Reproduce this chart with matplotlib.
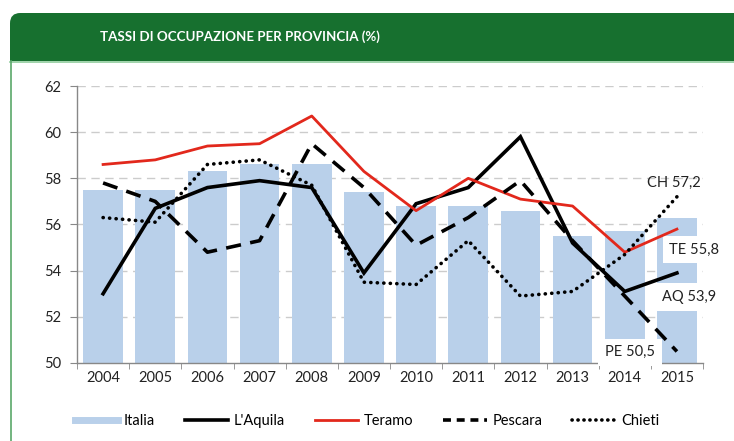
import matplotlib
matplotlib.use("Agg")
import matplotlib.pyplot as plt
from matplotlib.patches import FancyBboxPatch, Rectangle
from matplotlib.lines import Line2D
import numpy as np

years = ["2004", "2005", "2006", "2007", "2008", "2009", "2010", "2011", "2012", "2013", "2014", "2015"]
italia = [57.5, 57.5, 58.3, 58.6, 58.6, 57.4, 56.8, 56.8, 56.6, 55.5, 55.7, 56.3]
laquila = [53.0, 56.7, 57.6, 57.9, 57.6, 53.9, 56.9, 57.6, 59.8, 55.2, 53.1, 53.9]
teramo = [58.6, 58.8, 59.4, 59.5, 60.7, 58.3, 56.6, 58.0, 57.1, 56.8, 54.8, 55.8]
pescara = [57.8, 57.0, 54.8, 55.3, 59.5, 57.6, 55.1, 56.3, 57.9, 55.3, 52.9, 50.5]
chieti = [56.3, 56.1, 58.6, 58.8, 57.7, 53.5, 53.4, 55.3, 52.9, 53.1, 54.7, 57.2]
end_labels = ["CH 57,2", "TE 55,8", "AQ 53,9", "PE 50,5"]
title = "TASSI DI OCCUPAZIONE PER PROVINCIA (%)"

FONT = ["Lato", "DejaVu Sans"]
plt.rcParams['font.family'] = FONT

fig = plt.figure(figsize=(7.34, 4.41), dpi=100)
W, H = 734, 441

# header band
green = "#17702f"
hdr = FancyBboxPatch((10 / W, 1 - 61 / H), (W + 20) / W, 48 / H,
                     boxstyle="round,pad=0,rounding_size=0.014",
                     transform=fig.transFigure, facecolor=green, edgecolor="none",
                     mutation_aspect=W / H)
fig.add_artist(hdr)
fig.add_artist(Rectangle((10 / W, 1 - 61 / H), 1, 24 / H, transform=fig.transFigure,
                         facecolor=green, edgecolor="none"))
fig.add_artist(Rectangle((30 / W, 1 - 61 / H), 1, 40 / H, transform=fig.transFigure,
                         facecolor=green, edgecolor="none"))
fig.add_artist(Line2D([10 / W, 1], [1 - 62 / H, 1 - 62 / H], transform=fig.transFigure,
                      color="#8fcc9c", lw=1.2))
fig.add_artist(Line2D([11 / W, 11 / W], [0, 1 - 61 / H], transform=fig.transFigure,
                      color="#5aa86a", lw=1.2))
fig.text(100 / W, 1 - 37 / H, title, color="white", fontsize=9.6, fontweight="bold",
         family=["Lato", "DejaVu Sans"], va="center", ha="left")

ax = fig.add_axes([77 / W, 1 - 363 / H, (703 - 77) / W, (363 - 86) / H])
x = np.arange(len(years))
ax.bar(x, [v - 50 for v in italia], bottom=50, width=0.76, color="#b9d0ea", zorder=1)

ax.plot(x, laquila, color="black", lw=2.6, zorder=4, solid_joinstyle="miter")
ax.plot(x, teramo, color="#e2281c", lw=2.0, zorder=4)
ax.plot(x, pescara, color="black", lw=2.6, dashes=(4.2, 2.6), zorder=4)
ax.plot(x, chieti, color="black", lw=2.6, linestyle=(0, (0.05, 1.75)),
        dash_capstyle="round", zorder=4)

ax.set_xlim(-0.5, len(years) - 0.5)
ax.set_ylim(50, 62)
ax.set_yticks(range(50, 63, 2))
ax.set_xticks(x)
ax.set_xticklabels(years)
ax.set_xticks(np.arange(-0.5, len(years)), minor=True)
ax.tick_params(axis="x", which="major", length=0, labelsize=10.5, pad=6, colors="#222222")
ax.tick_params(axis="x", which="minor", length=4, color="#888888", direction="out")
ax.tick_params(axis="y", length=5, color="#888888", labelsize=10.5, pad=6, labelcolor="#222222")
for s in ["top", "right"]:
    ax.spines[s].set_visible(False)
for s in ["left", "bottom"]:
    ax.spines[s].set_color("#888888")
    ax.spines[s].set_linewidth(1.0)
ax.set_axisbelow(True)
for yv in range(52, 63, 2):
    ax.axhline(yv, color="#cccccc", lw=1.0, dashes=(6, 4), zorder=0.5)

# end labels
lab_pos = [(10.94, 57.8, False), (11.33, 54.9, True), (11.23, 52.86, True), (10.1, 50.47, True)]
for txt, (lx, ly, boxed) in zip(end_labels, lab_pos):
    kw = dict(ha="center", va="center", fontsize=10.5, color="#222222", zorder=3, clip_on=False)
    if boxed:
        kw["bbox"] = dict(boxstyle="square,pad=0.45", facecolor="white", edgecolor="none")
    ax.text(lx, ly, txt, **kw)

handles = [
    Line2D([], [], color="#b9d0ea", lw=5),
    Line2D([], [], color="black", lw=2.6),
    Line2D([], [], color="#e2281c", lw=2.0),
    Line2D([], [], color="black", lw=2.6, dashes=(2.2, 1.6)),
    Line2D([], [], color="black", lw=2.6, linestyle=(0, (0.05, 1.6)), dash_capstyle="round"),
]
names = ["Italia", "L'Aquila", "Teramo", "Pescara", "Chieti"]
fig.legend(handles, names, loc="center", bbox_to_anchor=(0.5, 1 - 421 / H), ncol=5,
           frameon=False, fontsize=10.5, handlelength=3.0, columnspacing=2.0,
           handletextpad=0.4)

fig.savefig("out.png", dpi=100)
